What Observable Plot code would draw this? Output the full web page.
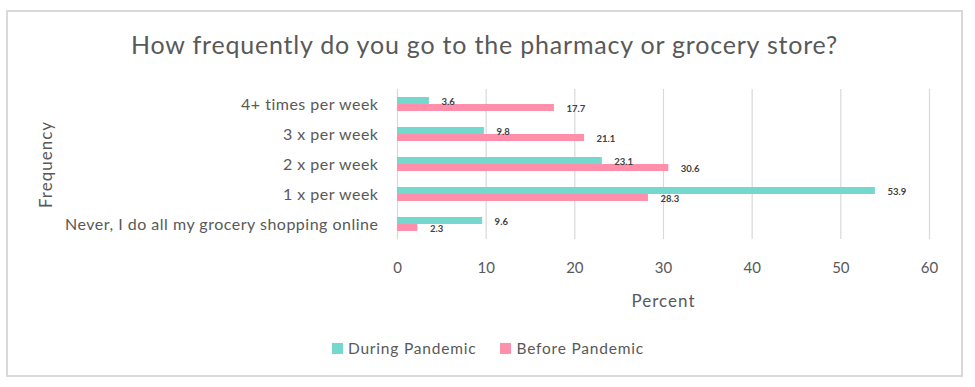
<!DOCTYPE html>
<html>
<head>
<meta charset="utf-8">
<script src="https://cdn.jsdelivr.net/npm/d3@7"></script>
<script src="https://cdn.jsdelivr.net/npm/@observablehq/plot@0.6"></script>
<style>
  body { margin: 0; background: #fff; font-family: Lato, "Open Sans", sans-serif; }
  #wrap { position: relative; width: 975px; height: 387px; overflow: hidden; background: #fff; }
  #frame { position: absolute; left: 6px; top: 10px; width: 957px; height: 367px; border: 2px solid #d9d9d9; box-sizing: border-box; }
  #title { position: absolute; left: 7px; width: 955px; top: 29px; text-align: center; font-size: 25px; letter-spacing: 0.8px; color: #595959; line-height: 30px; }
  #chart { position: absolute; left: 0; top: 70px; }
  #legend { position: absolute; top: 340px; left: 8px; width: 960px; display: flex; justify-content: center; gap: 24px; font-size: 15.5px; letter-spacing: 0.8px; color: #595959; line-height: 16px; }
  .item { display: flex; align-items: center; gap: 5px; }
  .sw { width: 11px; height: 11px; display: inline-block; }
</style>
</head>
<body>
<div id="wrap">
  <div id="frame"></div>
  <div id="title">How frequently do you go to the pharmacy or grocery store?</div>
  <div id="chart"></div>
  <div id="legend"></div>
</div>
<script>
const categories = [
  "4+ times per week",
  "3 x per week",
  "2 x per week",
  "1 x per week",
  "Never, I do all my grocery shopping online"
];
const seriesNames = ["During Pandemic", "Before Pandemic"];
const duringPandemic = [3.6, 9.8, 23.1, 53.9, 9.6];
const beforePandemic = [17.7, 21.1, 30.6, 28.3, 2.3];
const seriesColors = ["#75d8ce", "#ff8fab"];
const xTicks = [0, 10, 20, 30, 40, 50, 60];

const rows = [];
categories.forEach((c, i) => {
  rows.push({category: c, series: seriesNames[0], value: duringPandemic[i]});
  rows.push({category: c, series: seriesNames[1], value: beforePandemic[i]});
});

const chart = Plot.plot({
  width: 975,
  height: 245,
  marginTop: 18,
  marginBottom: 75.5,
  marginLeft: 397,
  marginRight: 46,
  style: {fontFamily: "Lato, 'Open Sans', sans-serif", color: "#595959", background: "transparent"},
  facet: {data: rows, y: "category"},
  fy: {
    domain: categories,
    padding: 0,
    tickSize: 0,
    tickPadding: 19,
    label: "Frequency",
    labelAnchor: "center",
    labelOffset: 358
  },
  y: {domain: seriesNames, axis: null, paddingInner: 0, paddingOuter: 0.9},
  x: {
    domain: [0, 60],
    ticks: xTicks,
    tickSize: 0,
    tickPadding: 23,
    label: "Percent",
    labelAnchor: "center",
    labelOffset: 67,
    labelArrow: "none"
  },
  color: {domain: seriesNames, range: seriesColors},
  marks: [
    Plot.ruleX(xTicks, {stroke: "#d9d9d9", strokeWidth: 1.2}),
    Plot.barX(rows, {x: "value", y: "series", fill: "series"}),
    Plot.text(rows, {
      x: "value", y: "series",
      text: d => d.value.toFixed(1),
      textAnchor: "start", dx: 12, dy: 1,
      fill: "#404040", fontWeight: "bold", fontSize: 9.5
    })
  ]
});
document.getElementById("chart").appendChild(chart);

// style axis text sizes
chart.querySelectorAll("g[aria-label='fy-axis'] text, g[aria-label='fy-axis tick label'] text").forEach(t => { t.style.fontSize = "16px"; t.style.letterSpacing = "0.5px"; });
chart.querySelectorAll("g[aria-label='x-axis'] text, g[aria-label='x-axis tick label'] text").forEach(t => t.style.fontSize = "15px");
chart.querySelectorAll("g[aria-label='x-axis label'] text, g[aria-label='fy-axis label'] text").forEach(t => { t.style.fontSize = "17px"; t.style.letterSpacing = "1px"; });

const legend = document.getElementById("legend");
seriesNames.forEach((s, i) => {
  const item = document.createElement("div");
  item.className = "item";
  const sw = document.createElement("span");
  sw.className = "sw";
  sw.style.background = seriesColors[i];
  const label = document.createElement("span");
  label.textContent = s;
  item.appendChild(sw);
  item.appendChild(label);
  legend.appendChild(item);
});
</script>
</body>
</html>
